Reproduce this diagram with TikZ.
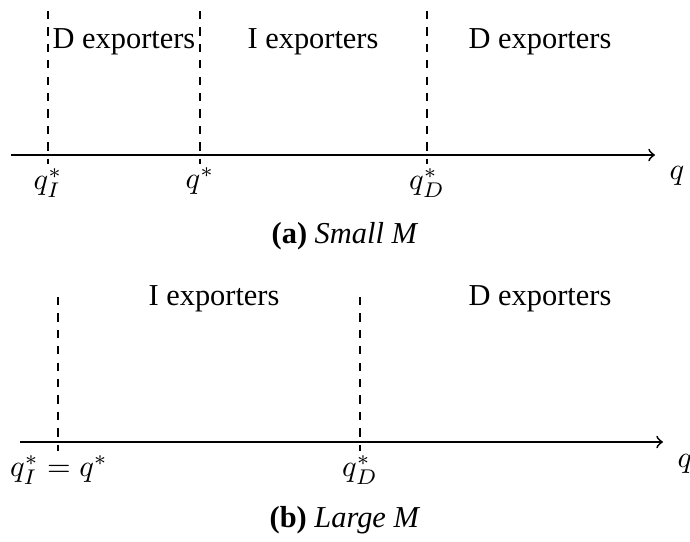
\documentclass[tikz,border=0pt]{standalone}
\usepackage{amsmath,amssymb}
\usepackage{fontspec}
\setmainfont{Liberation Serif}
\usepackage{tikz}
\usetikzlibrary{calc}

\begin{document}
\begin{tikzpicture}[x=0.329pt,y=-0.329pt,line width=0.4pt]
  \useasboundingbox (0,0) rectangle (690,542);
  \tikzset{axis/.style={semithick,->},cut/.style={thin,dash pattern=on 2.7pt off 2.7pt}}
  % (a) small M
  \coordinate (a0) at (11,155); \coordinate (a1) at (655,155);
  \draw[axis] (a0) -- (a1);
  \coordinate (aI) at (48,11);   \coordinate (aIb) at (48,164);
  \coordinate (aS) at (200,11);  \coordinate (aSb) at (200,164);
  \coordinate (aD) at (427,11);  \coordinate (aDb) at (427,164);
  \draw[cut] (aI) -- (aIb);
  \draw[cut] (aS) -- (aSb);
  \draw[cut] (aD) -- (aDb);
  \node (aL1) at (124,42) {D exporters};
  \node (aL2) at (313,42) {I exporters};
  \node (aL3) at (540,42) {D exporters};
  \node (aqI) at (48,183) {$q_I^*$};
  \node (aqS) at (200,181) {$q^*$};
  \node (aqD) at (427,183) {$q_D^*$};
  \node (aq) at (677,176) {$q$};
  \node (acap) at (345,236) {\textbf{(a)} \textit{Small M}};
  % (b) large M
  \coordinate (b0) at (20,442); \coordinate (b1) at (663,442);
  \draw[axis] (b0) -- (b1);
  \coordinate (bI) at (58,297);  \coordinate (bIb) at (58,451);
  \coordinate (bD) at (360,297); \coordinate (bDb) at (360,451);
  \draw[cut] (bI) -- (bIb);
  \draw[cut] (bD) -- (bDb);
  \node (bL1) at (214,299) {I exporters};
  \node (bL2) at (540,299) {D exporters};
  \node (bqI) at (59,470) {$q_I^* = q^*$};
  \node (bqD) at (360,470) {$q_D^*$};
  \node (bq) at (685,464) {$q$};
  \node (bcap) at (345,520) {\textbf{(b)} \textit{Large M}};
\end{tikzpicture}
\end{document}
